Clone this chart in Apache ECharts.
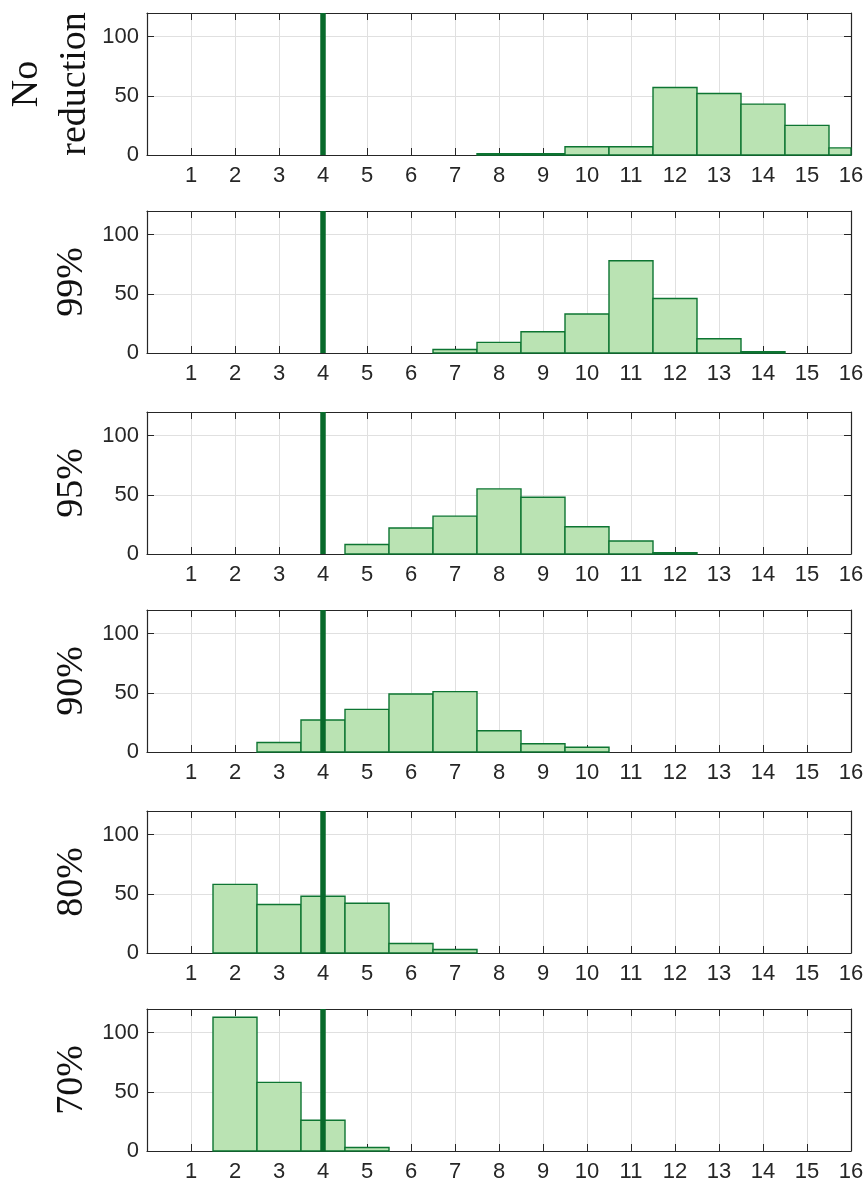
<!DOCTYPE html>
<html>
<head>
<meta charset="utf-8">
<script src="https://cdn.jsdelivr.net/npm/echarts@6/dist/echarts.min.js"></script>
<style>
  html, body { margin: 0; padding: 0; background: #fff; }
  #chart { width: 868px; height: 1189px; }
</style>
</head>
<body>
<div id="chart"></div>
<script>
// row labels (left side, serif)
const rowLabels = ['No\nreduction', '99%', '95%', '90%', '80%', '70%'];

// histogram bins (centres 1..16)
const bins = [1, 2, 3, 4, 5, 6, 7, 8, 9, 10, 11, 12, 13, 14, 15, 16];

// counts per bin, one list per row
const countsNoReduction = [0, 0, 0, 0, 0, 0, 0, 1, 1, 7, 7, 57, 52, 43, 25, 6];
const counts99 = [0, 0, 0, 0, 0, 0, 3, 9, 18, 33, 78, 46, 12, 1, 0, 0];
const counts95 = [0, 0, 0, 0, 8, 22, 32, 55, 48, 23, 11, 1, 0, 0, 0, 0];
const counts90 = [0, 0, 8, 27, 36, 49, 51, 18, 7, 4, 0, 0, 0, 0, 0, 0];
const counts80 = [0, 58, 41, 48, 42, 8, 3, 0, 0, 0, 0, 0, 0, 0, 0, 0];
const counts70 = [0, 113, 58, 26, 3, 0, 0, 0, 0, 0, 0, 0, 0, 0, 0, 0];

const allCounts = [countsNoReduction, counts99, counts95, counts90, counts80, counts70];

// reference value (thick vertical line)
const targetValue = 4;

// axis ranges / ticks
const xMin = 0, xMax = 16, xStep = 1;
const yMin = 0, yMax = 120, yStep = 50;

const AXIS_COLOR = '#262626';
const GRID_COLOR = '#e0e0e0';
const BAR_FILL = '#bae3b3';
const BAR_EDGE = '#0d7532';
const LINE_COLOR = '#086a2b';

const gridTops = [13, 211, 412, 610, 811, 1009];
const gridHeight = 142;

const chart = echarts.init(document.getElementById('chart'), null, { renderer: 'canvas' });

const grids = [], xAxes = [], yAxes = [], series = [];

allCounts.forEach((counts, i) => {
  grids.push({
    left: 147, right: 17, top: gridTops[i], height: gridHeight,
    containLabel: false, outerBoundsMode: 'none'
  });

  const tickCommon = { show: true, inside: true, length: 7, lineStyle: { color: AXIS_COLOR, width: 1 } };
  const lineCommon = { show: true, onZero: false, lineStyle: { color: AXIS_COLOR, width: 1.2 } };

  // bottom x axis with labels
  xAxes.push({
    type: 'value', gridIndex: i, position: 'bottom',
    min: xMin, max: xMax, interval: xStep,
    axisLine: lineCommon,
    axisTick: tickCommon,
    axisLabel: {
      show: true, margin: 10, color: AXIS_COLOR, fontSize: 22, fontFamily: 'Liberation Sans',
      formatter: v => (v === 0 ? '' : String(v))
    },
    splitLine: { show: true, lineStyle: { color: GRID_COLOR, width: 1 } }
  });
  // top x axis (ticks only)
  xAxes.push({
    type: 'value', gridIndex: i, position: 'top',
    min: xMin, max: xMax, interval: xStep,
    axisLine: lineCommon, axisTick: tickCommon,
    axisLabel: { show: false }, splitLine: { show: false }
  });
  // left y axis with labels and row name
  yAxes.push({
    type: 'value', gridIndex: i, position: 'left',
    min: yMin, max: yMax, interval: yStep,
    axisLine: lineCommon, axisTick: tickCommon,
    axisLabel: {
      show: true, margin: 8, color: AXIS_COLOR, fontSize: 22, fontFamily: 'Liberation Sans',
      showMaxLabel: false,
      formatter: v => (v % yStep === 0 ? String(v) : '')
    },
    splitLine: { show: true, lineStyle: { color: GRID_COLOR, width: 1 } },
    name: rowLabels[i],
    nameLocation: 'middle',
    nameRotate: 90,
    nameMoveOverlap: false,
    nameGap: i === 0 ? 48 : 51,
    nameTextStyle: { fontFamily: 'Liberation Serif', fontSize: 38, color: '#111', lineHeight: 48 }
  });
  // right y axis (ticks only)
  yAxes.push({
    type: 'value', gridIndex: i, position: 'right',
    min: yMin, max: yMax, interval: yStep,
    axisLine: lineCommon, axisTick: tickCommon,
    axisLabel: { show: false }, splitLine: { show: false }
  });

  // histogram bars
  series.push({
    type: 'custom',
    xAxisIndex: 2 * i, yAxisIndex: 2 * i,
    data: bins.map((b, k) => [b, counts[k]]),
    z: 3,
    renderItem: (params, api) => {
      const x = api.value(0), y = api.value(1);
      if (!y) return null;
      const p0 = api.coord([x - 0.5, 0]);
      const p1 = api.coord([x + 0.5, y]);
      const cs = params.coordSys;
      const shape = echarts.graphic.clipRectByRect(
        { x: p0[0], y: p1[1], width: p1[0] - p0[0], height: p0[1] - p1[1] },
        { x: cs.x, y: cs.y, width: cs.width, height: cs.height }
      );
      return shape && {
        type: 'rect', shape: shape,
        style: { fill: BAR_FILL, stroke: BAR_EDGE, lineWidth: 1.4 }
      };
    }
  });

  // reference line
  series.push({
    type: 'line',
    xAxisIndex: 2 * i, yAxisIndex: 2 * i,
    data: [[targetValue, yMin], [targetValue, yMax]],
    showSymbol: false, symbol: 'none',
    lineStyle: { color: LINE_COLOR, width: 5.5 },
    z: 5, silent: true, animation: false
  });
});

chart.setOption({
  animation: false,
  backgroundColor: '#ffffff',
  grid: grids,
  xAxis: xAxes,
  yAxis: yAxes,
  series: series
});
</script>
</body>
</html>
